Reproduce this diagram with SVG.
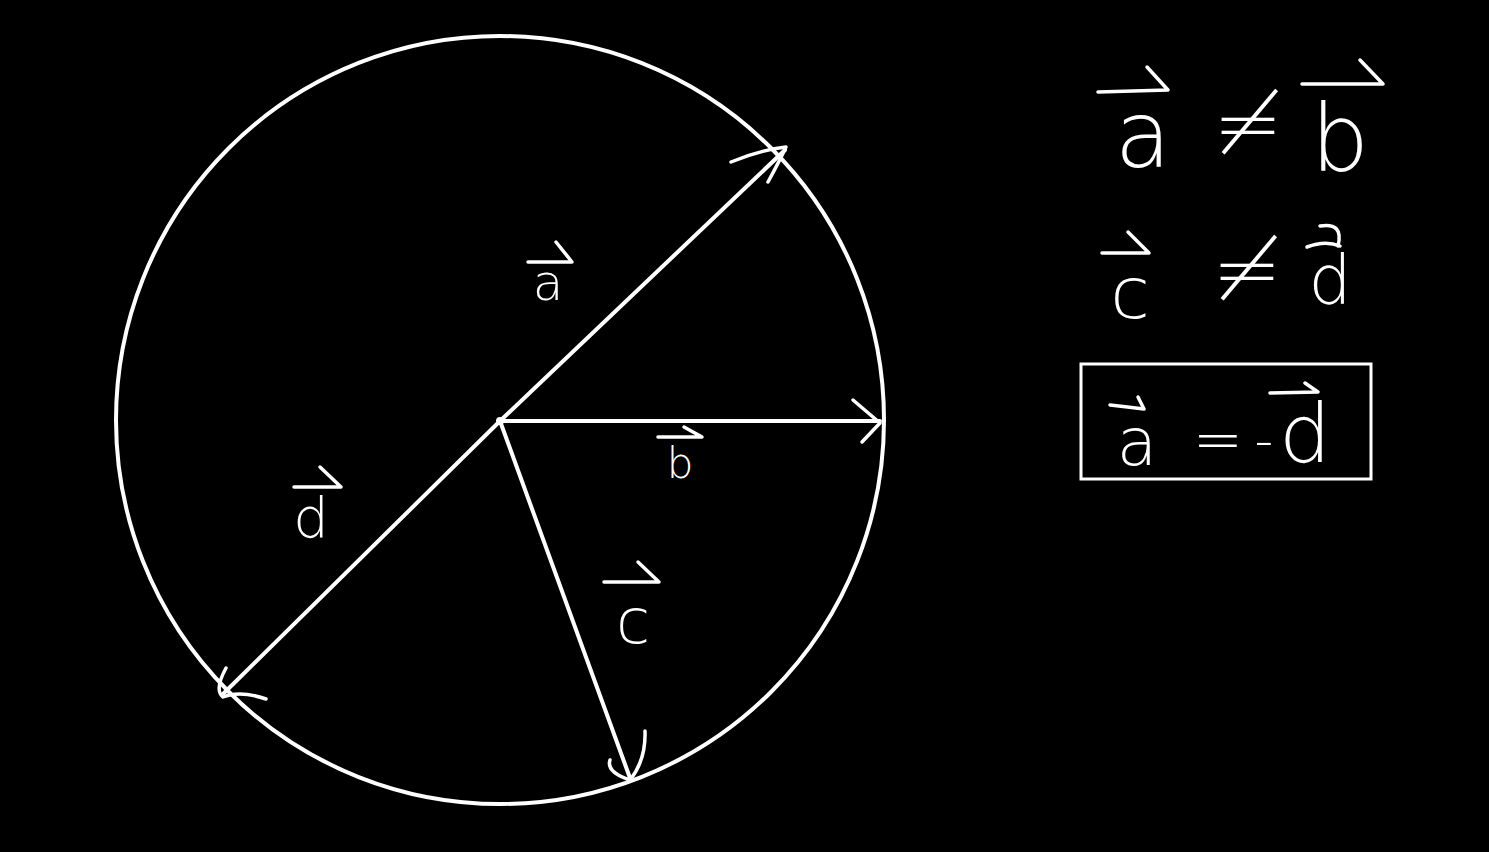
<svg xmlns="http://www.w3.org/2000/svg" width="1489" height="852" viewBox="0 0 1489 852">
<style>
.bg{fill:#000}
.ln{fill:none;stroke:#fff;stroke-width:4;stroke-linecap:round;stroke-linejoin:round}
.hd{fill:none;stroke:#fff;stroke-width:3.5;stroke-linecap:round;stroke-linejoin:round}
.t{fill:#fff;font-family:"DejaVu Sans","Liberation Sans",sans-serif;font-weight:200;text-anchor:middle}
</style>
<rect class="bg" x="0" y="0" width="1489" height="852"/>
<g id="circle">
<circle class="ln" cx="500" cy="420" r="384"/>
</g>
<g id="connectors">
<g id="vec-a">
<line class="ln" x1="500" y1="421" x2="785" y2="150"/>
<path class="hd" d="M731 162 Q760 150 786 147 Q780 160 768 182"/>
</g>
<g id="vec-b">
<line class="ln" x1="500" y1="421" x2="880" y2="421"/>
<path class="hd" d="M853 400 L880 423 L862 442"/>
</g>
<g id="vec-c">
<line class="ln" x1="500" y1="421" x2="630" y2="778"/>
<path class="hd" d="M610 760 Q606 772 630 780 Q646 760 645 731"/>
</g>
<g id="vec-d">
<line class="ln" x1="500" y1="421" x2="222" y2="695"/>
<path class="hd" d="M226 668 Q214 690 223 697 Q240 690 266 699"/>
</g>
<circle cx="500" cy="421" r="4" fill="#fff"/>
</g>
<g id="label-a">
<path class="hd" d="M528 262 L572 262 L556 242"/>
<text class="t" x="548" y="300" font-size="50">a</text>
</g>
<g id="label-b">
<path class="hd" d="M658 437 L702 437 L684 427"/>
<text class="t" x="680" y="478" font-size="42">b</text>
</g>
<g id="label-c">
<path class="hd" d="M604 582 L659 582 L638 562"/>
<text class="t" x="633" y="643" font-size="62">c</text>
</g>
<g id="label-d">
<path class="hd" d="M294 487 L341 487 L320 467"/>
<text class="t" x="311" y="537" font-size="56">d</text>
</g>
<g id="eq1">
<path class="hd" d="M1098 92 L1168 90 L1147 67"/>
<text class="t" x="1143" y="167" font-size="92">a</text>
<text class="t" x="1248" y="152" font-size="84">≠</text>
<path class="hd" d="M1302 84 L1383 84 L1360 60"/>
<text class="t" x="1340" y="171" font-size="92">b</text>
</g>
<g id="eq2">
<path class="hd" d="M1102 253 L1149 253 L1128 232"/>
<text class="t" x="1130" y="318" font-size="72">c</text>
<text class="t" x="1247" y="298" font-size="84">≠</text>
<path class="hd" d="M1307 247 Q1325 240 1340 246 M1320 226 Q1344 222 1338 246"/>
<text class="t" x="1330" y="304" font-size="68">d</text>
</g>
<g id="eq3">
<rect x="1081" y="364" width="290" height="115" fill="none" stroke="#fff" stroke-width="3"/>
<path class="hd" d="M1110 405 Q1128 407 1144 409 L1138 397"/>
<text class="t" x="1137" y="465" font-size="66">a</text>
<text class="t" x="1218" y="460" font-size="60">=</text>
<text class="t" x="1264" y="458" font-size="52">-</text>
<path class="hd" d="M1270 393 L1318 392 L1305 383"/>
<text class="t" x="1305" y="462" font-size="82">d</text>
</g>
</svg>
